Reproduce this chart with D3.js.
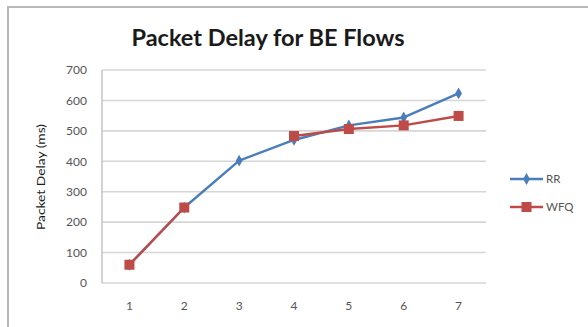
<!DOCTYPE html>
<html>
<head>
<meta charset="utf-8">
<script src="https://cdn.jsdelivr.net/npm/d3@7"></script>
<style>
  html, body { margin: 0; padding: 0; background: #ffffff; }
  svg { display: block; }
</style>
</head>
<body>
<svg id="chart" width="588" height="327"></svg>
<script>
// Packet delay (ms) per flow count, for two schedulers
const categories = ["1", "2", "3", "4", "5", "6", "7"];
const rrValues  = [60, 248, 402, 470, 518, 544, 623];
const wfqValues = [60, 248, null, 483, 506, 518, 549];
const yTicks = [0, 100, 200, 300, 400, 500, 600, 700];
const seriesNames = ["RR", "WFQ"];

const colors = { RR: "#4a7ebb", WFQ: "#be4b48" };
const font = "Lato, 'Open Sans', sans-serif";

const svg = d3.select("#chart");
const W = 588, H = 327;
const plot = { left: 102, right: 486, top: 70, bottom: 283 };

// Outer chart frame
svg.append("rect")
  .attr("x", 8).attr("y", 7)
  .attr("width", W + 10).attr("height", H + 10)
  .attr("fill", "#fff")
  .attr("stroke", "#b8b8b8").attr("stroke-width", 2);

// Title
svg.append("text")
  .attr("x", 268).attr("y", 46)
  .attr("text-anchor", "middle")
  .attr("font-family", font)
  .attr("font-weight", "bold")
  .attr("font-size", 23.5)
  .attr("fill", "#1a1a1a")
  .text("Packet Delay for BE Flows");

const x = d3.scaleBand().domain(categories).range([plot.left, plot.right]);
const y = d3.scaleLinear().domain([0, 700]).range([plot.bottom, plot.top]);

// Horizontal gridlines
svg.append("g")
  .selectAll("line")
  .data(yTicks)
  .join("line")
  .attr("x1", plot.left).attr("x2", plot.right)
  .attr("y1", d => y(d)).attr("y2", d => y(d))
  .attr("stroke", "#d6d6d6").attr("stroke-width", 1.6);

// Vertical axis line
svg.append("line")
  .attr("x1", plot.left).attr("x2", plot.left)
  .attr("y1", y(700)).attr("y2", y(0))
  .attr("stroke", "#c8c8c8").attr("stroke-width", 1.6);

// Y axis tick labels
const yAxis = d3.axisLeft(y).tickValues(yTicks).tickSize(0).tickPadding(15);
const gy = svg.append("g").attr("transform", `translate(${plot.left},0)`).call(yAxis);
gy.select(".domain").remove();
gy.selectAll("text")
  .attr("font-family", font)
  .attr("font-size", 12)
  .attr("fill", "#555");

// X axis tick labels
const xAxis = d3.axisBottom(x).tickSize(0).tickPadding(18);
const gx = svg.append("g").attr("transform", `translate(0,${plot.bottom})`).call(xAxis);
gx.select(".domain").remove();
gx.selectAll("text")
  .attr("font-family", font)
  .attr("font-size", 12)
  .attr("fill", "#555");

// Y axis title
svg.append("text")
  .attr("transform", "translate(45,177) rotate(-90)")
  .attr("text-anchor", "middle")
  .attr("font-family", font)
  .attr("font-size", 12)
  .attr("textLength", 106)
  .attr("lengthAdjust", "spacingAndGlyphs")
  .attr("fill", "#1a1a1a")
  .text("Packet Delay (ms)");

const cx = c => x(c) + x.bandwidth() / 2;

const line = d3.line()
  .defined(d => d.v != null)
  .x(d => cx(d.c))
  .y(d => y(d.v));

const series = [
  { name: "RR",  values: rrValues },
  { name: "WFQ", values: wfqValues }
];

const diamond = d3.symbol().type(d3.symbolDiamond).size(40);

series.forEach(s => {
  const pts = categories.map((c, i) => ({ c, v: s.values[i] }));
  svg.append("path")
    .datum(pts)
    .attr("d", line)
    .attr("fill", "none")
    .attr("stroke", colors[s.name])
    .attr("stroke-width", 2.4)
    .attr("stroke-linejoin", "round");

  const g = svg.append("g");
  const defined = pts.filter(d => d.v != null);
  if (s.name === "RR") {
    g.selectAll("path")
      .data(defined)
      .join("path")
      .attr("d", diamond)
      .attr("transform", d => `translate(${cx(d.c)},${y(d.v)})`)
      .attr("fill", colors.RR);
  } else {
    g.selectAll("rect")
      .data(defined)
      .join("rect")
      .attr("x", d => cx(d.c) - 5).attr("y", d => y(d.v) - 5)
      .attr("width", 10).attr("height", 10)
      .attr("fill", colors.WFQ);
  }
});

// Legend
const legend = svg.append("g");
seriesNames.forEach((name, i) => {
  const ly = 179 + i * 28;
  legend.append("line")
    .attr("x1", 510).attr("x2", 543)
    .attr("y1", ly).attr("y2", ly)
    .attr("stroke", colors[name]).attr("stroke-width", 2.4);
  if (name === "RR") {
    legend.append("path")
      .attr("d", diamond)
      .attr("transform", `translate(526.5,${ly})`)
      .attr("fill", colors.RR);
  } else {
    legend.append("rect")
      .attr("x", 521.5).attr("y", ly - 5)
      .attr("width", 10).attr("height", 10)
      .attr("fill", colors.WFQ);
  }
  legend.append("text")
    .attr("x", 546).attr("y", ly + 4)
    .attr("font-family", font)
    .attr("font-size", 11.5)
    .attr("fill", "#555")
    .text(name);
});
</script>
</body>
</html>
